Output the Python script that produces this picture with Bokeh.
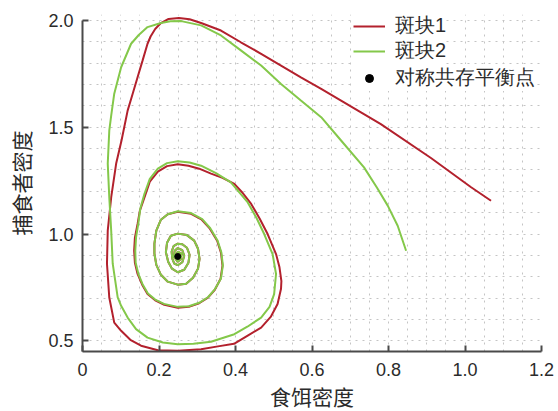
from bokeh.plotting import figure
from bokeh.models import Range1d, FixedTicker, CustomJSTickFormatter, Legend, LegendItem
from bokeh.embed import file_html
from bokeh.resources import INLINE

# Patch 1 trajectory (prey density, predator density)
red_x = [1.068, 1.016, 0.911, 0.780, 0.728, 0.676, 0.624, 0.571, 0.519, 0.467, 0.414, 0.362, 0.310,
         0.280, 0.252, 0.225, 0.205, 0.190, 0.178, 0.170, 0.157, 0.144, 0.131, 0.118, 0.102, 0.088,
         0.075, 0.066, 0.064, 0.070, 0.083, 0.101, 0.125, 0.153, 0.197, 0.250, 0.310, 0.354, 0.396,
         0.433, 0.467, 0.492, 0.510, 0.519, 0.520, 0.515, 0.506, 0.484, 0.463, 0.441, 0.419, 0.397,
         0.366, 0.336, 0.305, 0.277, 0.249,
         0.221, 0.197, 0.176, 0.162, 0.150, 0.144, 0.137, 0.135, 0.137, 0.144, 0.156, 0.170, 0.190,
         0.214, 0.249, 0.278, 0.305, 0.328, 0.346, 0.361, 0.366, 0.362, 0.352, 0.333, 0.312, 0.284, 0.249,
         0.223, 0.205, 0.193, 0.188, 0.188, 0.193, 0.205, 0.223, 0.249, 0.271, 0.289, 0.302, 0.306,
         0.302, 0.292, 0.273, 0.249,
         0.231, 0.221, 0.218, 0.224, 0.234, 0.249, 0.266, 0.277, 0.280, 0.273, 0.261, 0.249,
         0.238, 0.233, 0.235, 0.240, 0.249, 0.261, 0.266, 0.261, 0.249,
         0.241, 0.239, 0.249, 0.257, 0.259, 0.249, 0.244, 0.249, 0.254, 0.249, 0.249]
red_y = [1.156, 1.219, 1.356, 1.515, 1.570, 1.625, 1.680, 1.734, 1.789, 1.844, 1.898, 1.953, 1.988,
         2.006, 2.012, 2.007, 1.988, 1.960, 1.925, 1.891, 1.812, 1.734, 1.656, 1.578, 1.438, 1.330,
         1.172, 1.016, 0.861, 0.703, 0.585, 0.547, 0.505, 0.477, 0.456, 0.454, 0.461, 0.474, 0.486,
         0.526, 0.562, 0.612, 0.672, 0.744, 0.780, 0.844, 0.906, 1.000, 1.073, 1.141, 1.192, 1.235,
         1.263, 1.283, 1.306, 1.320, 1.327,
         1.318, 1.292, 1.245, 1.172, 1.109, 1.047, 0.983, 0.922, 0.866, 0.813, 0.763, 0.719, 0.690,
         0.669, 0.655, 0.659, 0.676, 0.702, 0.739, 0.791, 0.852, 0.913, 0.969, 1.025, 1.067, 1.095, 1.104,
         1.093, 1.067, 1.016, 0.955, 0.908, 0.856, 0.809, 0.777, 0.763, 0.767, 0.795, 0.838, 0.884,
         0.931, 0.969, 0.995, 1.002,
         0.992, 0.959, 0.915, 0.870, 0.838, 0.821, 0.833, 0.866, 0.903, 0.936, 0.952, 0.955,
         0.943, 0.917, 0.884, 0.862, 0.854, 0.868, 0.898, 0.924, 0.934,
         0.922, 0.894, 0.870, 0.882, 0.908, 0.917, 0.901, 0.882, 0.896, 0.903, 0.895]

# Patch 2 trajectory
green_x = [0.846, 0.824, 0.798, 0.770, 0.736, 0.676, 0.624, 0.571, 0.519, 0.467, 0.414, 0.362, 0.310,
           0.258, 0.230, 0.205, 0.170, 0.147, 0.127, 0.101, 0.083, 0.075, 0.070, 0.066, 0.070, 0.075,
           0.079, 0.092, 0.101, 0.118, 0.140, 0.170, 0.210, 0.249, 0.290, 0.336, 0.397, 0.431, 0.467,
           0.489, 0.501, 0.506, 0.497, 0.475, 0.455, 0.432, 0.388, 0.349, 0.310, 0.280, 0.249,
           0.221, 0.197, 0.176, 0.162, 0.151, 0.146, 0.140, 0.138, 0.139, 0.146, 0.157, 0.171, 0.190,
           0.213, 0.249, 0.278, 0.305, 0.328, 0.346, 0.362, 0.367, 0.363, 0.353, 0.334, 0.313, 0.284, 0.249,
           0.223, 0.205, 0.193, 0.188, 0.188, 0.193, 0.205, 0.223, 0.249, 0.271, 0.289, 0.302, 0.306,
           0.302, 0.292, 0.273, 0.249,
           0.231, 0.221, 0.218, 0.224, 0.234, 0.249, 0.266, 0.277, 0.280, 0.273, 0.261, 0.249,
           0.238, 0.233, 0.235, 0.240, 0.249, 0.261, 0.266, 0.261, 0.249,
           0.241, 0.239, 0.249, 0.257, 0.259, 0.249, 0.244, 0.249, 0.254, 0.249, 0.249]
green_y = [0.922, 1.039, 1.133, 1.217, 1.312, 1.438, 1.547, 1.625, 1.703, 1.789, 1.860, 1.930, 1.977,
           1.997, 1.996, 1.988, 1.969, 1.932, 1.891, 1.781, 1.657, 1.555, 1.484, 1.330, 1.172, 1.016,
           0.861, 0.703, 0.664, 0.609, 0.555, 0.515, 0.492, 0.484, 0.486, 0.496, 0.531, 0.566, 0.609,
           0.659, 0.719, 0.813, 0.906, 1.000, 1.075, 1.148, 1.242, 1.285, 1.320, 1.335, 1.341,
           1.332, 1.306, 1.258, 1.188, 1.118, 1.050, 0.985, 0.922, 0.866, 0.814, 0.765, 0.722, 0.693,
           0.673, 0.659, 0.662, 0.678, 0.704, 0.741, 0.792, 0.853, 0.914, 0.970, 1.027, 1.070, 1.098, 1.107,
           1.093, 1.067, 1.016, 0.955, 0.908, 0.856, 0.809, 0.777, 0.763, 0.767, 0.795, 0.838, 0.884,
           0.931, 0.969, 0.995, 1.002,
           0.992, 0.959, 0.915, 0.870, 0.838, 0.821, 0.833, 0.866, 0.903, 0.936, 0.952, 0.955,
           0.943, 0.917, 0.884, 0.862, 0.854, 0.868, 0.898, 0.924, 0.934,
           0.922, 0.894, 0.870, 0.882, 0.908, 0.917, 0.901, 0.882, 0.896, 0.903, 0.895]

# symmetric coexistence equilibrium
eq_x = [0.249]
eq_y = [0.895]

x_ticks = [0, 0.2, 0.4, 0.6, 0.8, 1.0, 1.2]
y_ticks = [0.5, 1.0, 1.5, 2.0]
series_labels = ["斑块1", "斑块2", "对称共存平衡点"]
x_title = "食饵密度"
y_title = "捕食者密度"

RED = "#b3212d"
GREEN = "#84c84a"
TXT = "#2b2b2b"
AX = "#4a4a4a"
CJK = "Liberation Sans, Noto Sans CJK SC"

p = figure(width=558, height=411, x_range=Range1d(0, 1.2), y_range=Range1d(0.45, 2.028),
           output_backend="svg", toolbar_location=None,
           min_border_left=82, min_border_right=17, min_border_top=14, min_border_bottom=60)
p.outline_line_color = None
p.background_fill_color = "white"

r1 = p.line(red_x, red_y, line_color=RED, line_width=2)
r2 = p.line(green_x, green_y, line_color=GREEN, line_width=2)
r3 = p.scatter(eq_x, eq_y, size=6, color="black")

p.xaxis.ticker = FixedTicker(ticks=x_ticks)
p.yaxis.ticker = FixedTicker(ticks=y_ticks)
p.yaxis.bounds = (0.45, 2.0)
p.xaxis.formatter = CustomJSTickFormatter(code="return tick == 0 ? '0' : tick.toFixed(1);")
p.yaxis.formatter = CustomJSTickFormatter(code="return tick.toFixed(1);")

p.xgrid.ticker = FixedTicker(ticks=[round(i * 0.05, 2) for i in range(1, 25)])
p.ygrid.ticker = FixedTicker(ticks=[round(0.5 + i * 0.1, 2) for i in range(16)])
for g in (p.xgrid, p.ygrid):
    g.grid_line_color = "#c4c4c4"
    g.grid_line_dash = "2 5"
    g.grid_line_width = 1

for ax in (p.xaxis, p.yaxis):
    ax.axis_line_color = AX
    ax.axis_line_width = 2
    ax.major_tick_line_color = AX
    ax.major_tick_line_width = 2
    ax.major_tick_in = 6
    ax.major_tick_out = 0
    ax.minor_tick_line_color = None
    ax.major_label_text_font = "Liberation Sans"
    ax.major_label_text_font_size = "18px"
    ax.major_label_text_color = TXT
    ax.axis_label_text_font = CJK
    ax.axis_label_text_font_size = "21px"
    ax.axis_label_text_font_style = "normal"
    ax.axis_label_text_color = TXT

p.xaxis.axis_label = x_title
p.yaxis.axis_label = y_title
p.xaxis.major_label_standoff = 11
p.xaxis.axis_label_standoff = 7
p.yaxis.major_label_standoff = 9
p.yaxis.axis_label_standoff = 11

# one legend per entry so that row spacing can match the reference
renderers = [r1, r2, r3]
legend_y = [312, 287, 260]
for lab, rr, ly in zip(series_labels, renderers, legend_y):
    lg = Legend(items=[LegendItem(label=lab, renderers=[rr])], location=(271, ly))
    lg.label_text_font = "Liberation Sans"
    lg.label_text_font_size = "20px"
    lg.label_text_color = TXT
    lg.glyph_width = 32
    lg.glyph_height = 20
    lg.label_height = 26
    lg.label_standoff = 10
    lg.spacing = 0
    lg.padding = 0
    lg.margin = 0
    lg.border_line_color = None
    lg.background_fill_color = "white"
    lg.background_fill_alpha = 1.0
    p.add_layout(lg)

open("out.html", "w").write(file_html(p, INLINE))
